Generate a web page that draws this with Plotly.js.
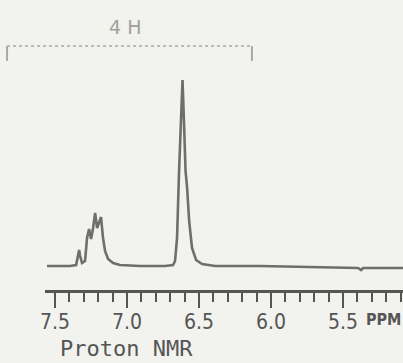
<!DOCTYPE html>
<html>
<head>
<meta charset="utf-8">
<script src="https://cdn.plot.ly/plotly-3.0.1.min.js"></script>
<style>html,body{margin:0;padding:0;background:#f2f2ee;}#chart{width:403px;height:363px;}</style>
</head>
<body>
<div id="chart"></div>
<script>
// Chemical shift (ppm) and signal intensity
var shiftPpm = [7.556, 7.396, 7.354, 7.340, 7.333, 7.326, 7.313, 7.292, 7.278, 7.264,
  7.250, 7.236, 7.222, 7.208, 7.194, 7.181, 7.167, 7.153, 7.132, 7.097,
  7.049, 6.910, 6.736, 6.681, 6.667, 6.653, 6.639, 6.625, 6.615, 6.604,
  6.594, 6.583, 6.569, 6.549, 6.521, 6.479, 6.389, 6.076, 5.729, 5.396,
  5.375, 5.361, 5.340, 5.083];
var intensity = [0, 0, 1, 10, 16, 10, 3, 5, 28, 37,
  27, 38, 53, 38, 44, 49, 28, 15, 7, 3,
  1, 0, 0, 1, 5, 28, 95, 150, 186, 140,
  95, 78, 45, 18, 6, 2, 0, 0, -1, -2,
  -4, -2, -2, -2];
var majorTicks = [7.5, 7.0, 6.5, 6.0, 5.5];
var majorLabels = ['7.5', '7.0', '6.5', '6.0', '5.5'];
var integralLabel = '4 H';
var unitLabel = 'PPM';
var chartTitle = 'Proton NMR';

var ink = '#555555';
var trace = {
  x: shiftPpm, y: intensity, type: 'scatter', mode: 'lines',
  line: {color: '#6e6e6e', width: 2.6}, hoverinfo: 'skip'
};
var layout = {
  width: 403, height: 363,
  margin: {l: 45, r: 0, t: 0, b: 73},
  paper_bgcolor: '#f2f2ee', plot_bgcolor: '#f2f2ee',
  showlegend: false,
  xaxis: {
    range: [7.57, 5.084], showgrid: false, zeroline: false,
    showline: true, linecolor: ink, linewidth: 2.5,
    ticks: 'outside', ticklen: 15, tickwidth: 2, tickcolor: ink,
    tickmode: 'array', tickvals: majorTicks, ticktext: majorLabels,
    ticklabelstandoff: -4,
    tickfont: {family: 'DejaVu Sans Condensed', size: 21, color: ink},
    minor: {dtick: 0.1, tick0: 5.5, ticks: 'outside', ticklen: 9, tickwidth: 2, tickcolor: ink, showgrid: false}
  },
  yaxis: {range: [-24, 266], visible: false, fixedrange: true},
  shapes: [
    {type: 'line', xref: 'paper', yref: 'paper', x0: -0.106, x1: 0.578, y0: 0.841, y1: 0.841, line: {color: '#a8a8a8', width: 1.5, dash: 'dot'}},
    {type: 'line', xref: 'paper', yref: 'paper', x0: -0.106, x1: -0.106, y0: 0.841, y1: 0.79, line: {color: '#a8a8a8', width: 2}},
    {type: 'line', xref: 'paper', yref: 'paper', x0: 0.578, x1: 0.578, y0: 0.841, y1: 0.79, line: {color: '#a8a8a8', width: 2}}
  ],
  annotations: [
    {text: integralLabel, xref: 'paper', yref: 'paper', x: 0.223, y: 0.907, xanchor: 'center', yanchor: 'middle', showarrow: false,
     font: {family: 'DejaVu Sans', size: 19, color: '#a0a0a0'}},
    {text: '<b>' + unitLabel + '</b>', xref: 'paper', yref: 'paper', x: 0.89, y: -0.1, xanchor: 'left', yanchor: 'middle', showarrow: false,
     font: {family: 'DejaVu Sans Condensed', size: 16, color: ink}},
    {text: chartTitle, xref: 'paper', yref: 'paper', x: 0.036, y: -0.2, xanchor: 'left', yanchor: 'middle', showarrow: false,
     font: {family: 'DejaVu Sans Mono', size: 22, color: ink}}
  ]
};
Plotly.newPlot('chart', [trace], layout, {displayModeBar: false, staticPlot: true});
</script>
</body>
</html>
